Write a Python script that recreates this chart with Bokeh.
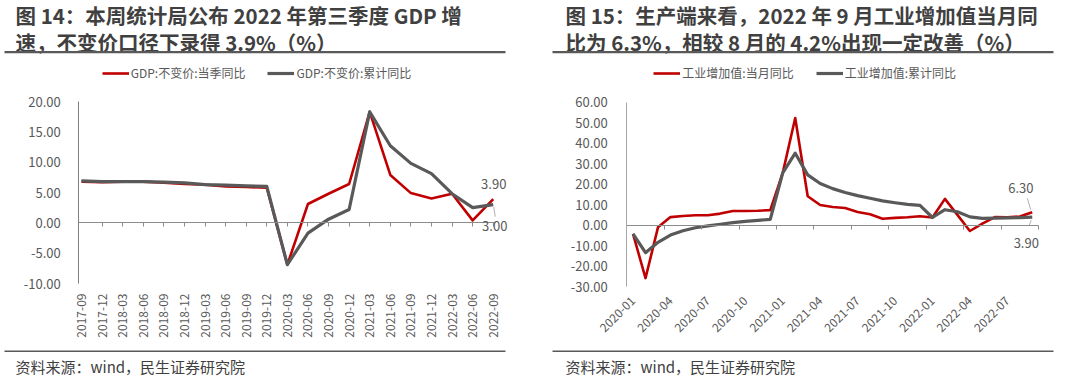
import math
from bokeh.plotting import figure
from bokeh.models import (LinearAxis, FixedTicker, PrintfTickFormatter, Label,
                          BoxAnnotation, Legend, LegendItem, Range1d)
from bokeh.layouts import row
from bokeh.embed import file_html
from bokeh.resources import INLINE

FONT = "Noto Sans CJK SC"
TXT = "#595959"
DARK = "#404040"
RED = "#C00000"
GRAY = "#595959"

# ---------------- data: chart 1 (GDP, quarterly) ----------------
gdp_quarters = ["2017-09", "2017-12", "2018-03", "2018-06", "2018-09", "2018-12",
                "2019-03", "2019-06", "2019-09", "2019-12", "2020-03", "2020-06",
                "2020-09", "2020-12", "2021-03", "2021-06", "2021-09", "2021-12",
                "2022-03", "2022-06", "2022-09"]
gdp_quarter_yoy = [6.8, 6.7, 6.8, 6.8, 6.6, 6.4, 6.3, 6.0, 5.9, 5.8, -6.9, 3.1,
                   4.8, 6.4, 18.3, 7.9, 4.9, 4.0, 4.8, 0.4, 3.9]
gdp_cum_yoy = [6.9, 6.8, 6.8, 6.8, 6.7, 6.6, 6.3, 6.2, 6.1, 6.0, -6.9, -1.7,
               0.6, 2.2, 18.3, 12.7, 9.8, 8.1, 4.8, 2.5, 3.0]
gdp_names = ["GDP:不变价:当季同比", "GDP:不变价:累计同比"]
gdp_yticks = [-10, -5, 0, 5, 10, 15, 20]

# ---------------- data: chart 2 (industrial value added, monthly) ----------------
ind_months = ["2020-01", "2020-02", "2020-03", "2020-04", "2020-05", "2020-06",
              "2020-07", "2020-08", "2020-09", "2020-10", "2020-11", "2020-12",
              "2021-01", "2021-02", "2021-03", "2021-04", "2021-05", "2021-06",
              "2021-07", "2021-08", "2021-09", "2021-10", "2021-11", "2021-12",
              "2022-01", "2022-02", "2022-03", "2022-04", "2022-05", "2022-06",
              "2022-07", "2022-08", "2022-09"]
ind_month_yoy = [-4.3, -25.9, -1.1, 3.9, 4.4, 4.8, 4.8, 5.6, 6.9, 6.9, 7.0, 7.3,
                 25.5, 52.3, 14.1, 9.8, 8.8, 8.3, 6.4, 5.3, 3.1, 3.5, 3.8, 4.3,
                 3.7, 12.8, 5.0, -2.9, 0.7, 3.9, 3.8, 4.2, 6.3]
ind_cum_yoy = [-4.3, -13.5, -8.4, -4.9, -2.8, -1.3, -0.4, 0.4, 1.2, 1.8, 2.3, 2.8,
               25.5, 35.1, 24.5, 20.3, 17.8, 15.9, 14.4, 13.1, 11.8, 10.9, 10.1, 9.6,
               3.7, 7.5, 6.5, 4.0, 3.3, 3.4, 3.5, 3.6, 3.9]
ind_names = ["工业增加值:当月同比", "工业增加值:累计同比"]
ind_yticks = [-30, -20, -10, 0, 10, 20, 30, 40, 50, 60]

title1 = ["图 14：本周统计局公布 2022 年第三季度 GDP 增", "速，不变价口径下录得 3.9%（%）"]
title2 = ["图 15：生产端来看，2022 年 9 月工业增加值当月同", "比为 6.3%，相较 8 月的 4.2%出现一定改善（%）"]
source = "资料来源：wind，民生证券研究院"

W, H = 540, 379


def build(cats, s1, s2, names, yticks, titles, label_step, tick_marks, xdata,
          label_angle, label_standoff, area, yaxis_color, y_standoff,
          legend_left, title_left, rule_span, last_offsets, leaders):
    # area = (left, right, top, bottom) of the plotting area in figure pixels
    left, right, top, bottom = area
    x0, x1 = xdata
    y0, y1 = yticks[0], yticks[-1]
    xpp = (x1 - x0) / (right - left)
    ypp = (y1 - y0) / (bottom - top)
    x_rng = Range1d(x0 - left * xpp, x1 + (W - right) * xpp)
    y_rng = Range1d(y0 - (H - bottom) * ypp, y1 + top * ypp)

    p = figure(width=W, height=H, output_backend="svg", toolbar_location=None,
               x_range=x_rng, y_range=y_rng, min_border=0)
    p.outline_line_color = None
    p.xgrid.visible = False
    p.ygrid.visible = False
    p.background_fill_color = "white"

    xs = list(range(len(cats)))
    r1 = p.line(xs, s1, line_color=RED, line_width=2.6, line_join="round")
    r2 = p.line(xs, s2, line_color=GRAY, line_width=3.2, line_join="round")

    # category labels at the bottom of the plotting area
    lab_idx = list(range(0, len(cats), label_step))
    xa = p.xaxis[0]
    xa.fixed_location = y0
    xa.ticker = FixedTicker(ticks=lab_idx)
    xa.major_label_overrides = {i: cats[i] for i in lab_idx}
    xa.axis_line_color = None
    xa.major_tick_line_color = None
    xa.minor_tick_line_color = None
    xa.major_tick_out = 0
    xa.major_tick_in = 0
    xa.major_label_orientation = label_angle
    xa.major_label_standoff = label_standoff
    xa.major_label_text_font = FONT
    xa.major_label_text_font_size = "12px"
    xa.major_label_text_color = TXT

    # zero line with tick marks
    za = LinearAxis(fixed_location=0, ticker=FixedTicker(ticks=tick_marks),
                    bounds=(x0, x1),
                    major_label_overrides={t: "" for t in tick_marks},
                    axis_line_color="#8c8c8c", axis_line_width=1,
                    major_tick_line_color="#8c8c8c", major_tick_in=0, major_tick_out=4,
                    minor_tick_line_color=None, major_label_text_font_size="1px")
    p.add_layout(za, "below")

    ya = p.yaxis[0]
    ya.fixed_location = x0
    ya.bounds = (y0, y1)
    ya.ticker = FixedTicker(ticks=yticks)
    ya.formatter = PrintfTickFormatter(format="%.2f")
    ya.axis_line_color = yaxis_color
    ya.major_tick_line_color = None
    ya.minor_tick_line_color = None
    ya.major_tick_out = 0
    ya.major_tick_in = 0
    ya.major_label_standoff = y_standoff
    ya.major_label_text_font = FONT
    ya.major_label_text_font_size = "13px"
    ya.major_label_text_color = TXT

    # legend: bottom-left corner, screen px from the figure's bottom-left
    leg = Legend(items=[LegendItem(label=names[0], renderers=[r1]),
                        LegendItem(label=names[1], renderers=[r2])],
                 orientation="horizontal", location=(legend_left, H - 81),
                 glyph_width=27, glyph_height=14, label_height=14, label_standoff=2,
                 spacing=22, padding=0, margin=0, border_line_color=None,
                 background_fill_alpha=0, label_text_font=FONT,
                 label_text_font_size="12px", label_text_color=TXT)
    p.add_layout(leg, "center")

    # two-line title
    for txt, yc in zip(titles, (14.5, 41)):
        p.add_layout(Label(x=title_left, y=H - yc, x_units="screen", y_units="screen",
                           text=txt, text_font=FONT, text_font_size="20.5px",
                           text_font_style="bold", text_color=DARK,
                           text_baseline="middle", text_align="left"))
    # rules
    for yt, yb in ((50.5, 52.7), (350.0, 351.6)):
        p.add_layout(BoxAnnotation(left=rule_span[0], right=rule_span[1],
                                   top=H - yt, bottom=H - yb,
                                   left_units="screen", right_units="screen",
                                   top_units="screen", bottom_units="screen",
                                   fill_color="#595959", fill_alpha=1, line_color=None))
    p.add_layout(Label(x=title_left, y=H - 366, x_units="screen", y_units="screen",
                       text=source, text_font=FONT, text_font_size="15px",
                       text_color=DARK, text_baseline="middle", text_align="left"))

    # end-value labels with thin leader lines
    n = len(cats) - 1
    series = (s1, s2)
    for s, (ox, oy) in zip(series, last_offsets):
        p.add_layout(Label(x=n, y=s[-1], x_offset=ox, y_offset=oy, text=f"{s[-1]:.2f}",
                           text_font=FONT, text_font_size="13px", text_color=TXT,
                           text_align="center", text_baseline="middle"))
    for si, dx0, dy0, dx1, dy1 in leaders:
        v = series[si][-1]
        p.segment(x0=[n + dx0 * xpp], y0=[v + dy0 * ypp],
                  x1=[n + dx1 * xpp], y1=[v + dy1 * ypp],
                  line_color="#b0b0b0", line_width=1)
    return p


p1 = build(gdp_quarters, gdp_quarter_yoy, gdp_cum_yoy, gdp_names, gdp_yticks, title1,
           label_step=1, tick_marks=list(range(1, len(gdp_quarters))),
           xdata=(-0.13, 20.1), label_angle=math.pi / 2, label_standoff=10,
           area=(78.3, 494.8, 101, 283), yaxis_color="#7f7f7f", y_standoff=18,
           legend_left=101.7, title_left=15, rule_span=(4, 505),
           last_offsets=((0.5, 15), (1.5, -21.5)),
           leaders=[(1, 0.5, -2.5, 2, -12)])

p2 = build(ind_months, ind_month_yoy, ind_cum_yoy, ind_names, ind_yticks, title2,
           label_step=3, tick_marks=[-0.5 + 3 * k for k in range(1, 12)],
           xdata=(-0.5, 32.5), label_angle=math.pi / 4, label_standoff=12,
           area=(86.3, 498, 101.7, 286), yaxis_color="#a6a6a6", y_standoff=19,
           legend_left=113.3, title_left=25, rule_span=(12, 513),
           last_offsets=((-11.4, 24.4), (-6, -26.3)),
           leaders=[(0, -1.5, 2.5, -5, 14), (1, -1, -3, -3, -8)])

layout = row(p1, p2)
open("out.html", "w").write(file_html(layout, INLINE))
